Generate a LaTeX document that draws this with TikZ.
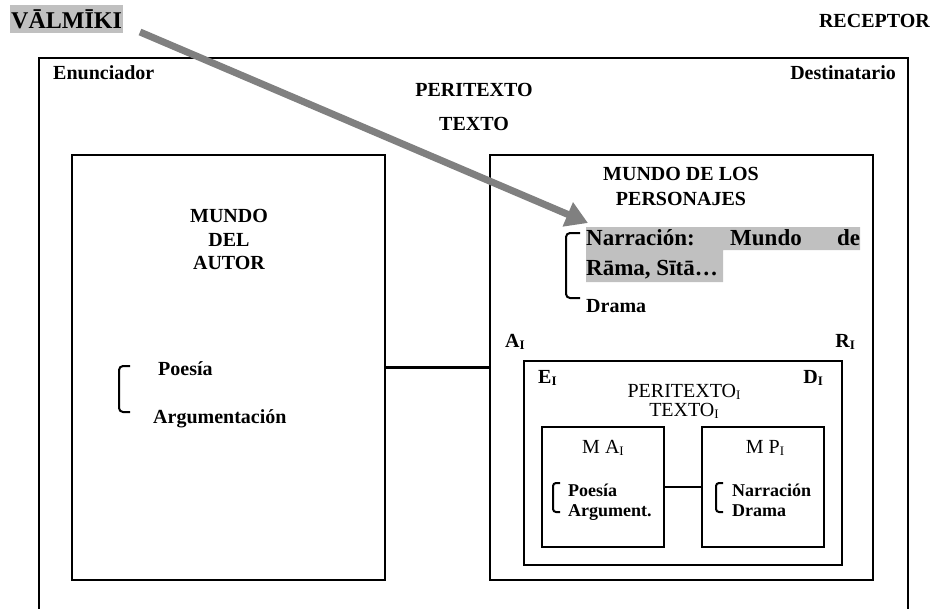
\documentclass[tikz,border=0pt]{standalone}
\usepackage{fontspec}
\setmainfont{Liberation Serif}
\usetikzlibrary{arrows.meta}
\definecolor{arrowgray}{RGB}{128,128,128}
\definecolor{hlgray}{RGB}{192,192,192}
\newcommand{\subI}{\raisebox{-2pt}{\scalebox{0.65}{I}}}
\begin{document}
\begin{tikzpicture}[x=1pt,y=-1pt,
  box/.style={draw, line width=2.6pt, inner sep=0pt, outer sep=0pt, anchor=north west},
  conn/.style={line width=2.6pt},
  brk/.style={line width=2pt, rounded corners=4pt},
  bl/.style={font=\bfseries\fontsize{20}{24}\selectfont, inner sep=0pt, anchor=base west},
  bc/.style={font=\bfseries\fontsize{20}{24}\selectfont, inner sep=0pt, anchor=base},
  be/.style={font=\bfseries\fontsize{20}{24}\selectfont, inner sep=0pt, anchor=base east},
  rc/.style={font=\fontsize{20}{24}\selectfont, inner sep=0pt, anchor=base},
  sl/.style={font=\bfseries\fontsize{18}{22}\selectfont, inner sep=0pt, anchor=base west},
  nl/.style={font=\bfseries\fontsize{23}{28}\selectfont, inner sep=0pt, anchor=base west}]
\useasboundingbox (0,0) rectangle (936,608);
\clip (0,0) rectangle (936,608);
\fill[white] (0,0) rectangle (936,608);

% boxes
\node[box, minimum width=869pt, minimum height=590pt] (outer) at (39,58) {};
\node[box, minimum width=313pt, minimum height=425pt] (left) at (72,155) {};
\node[box, minimum width=383pt, minimum height=425pt] (right) at (490,155) {};
\node[box, minimum width=318pt, minimum height=204pt] (inner) at (524,361) {};
\node[box, minimum width=122pt, minimum height=120pt] (ma) at (542,427) {};
\node[box, minimum width=122pt, minimum height=120pt] (mp) at (702,427) {};

\draw[conn] (left) -- (right);
\draw[conn] (ma) -- (mp);

% top labels
\node (valmiki) [fill=hlgray, font=\bfseries\fontsize{24}{28}\selectfont, inner xsep=1pt, inner ysep=0pt, text height=23pt, text depth=5pt, anchor=base west] at (10,28) {VĀLMĪKI};
\node[be] (receptor) at (930,27) {RECEPTOR};
\node[bl] (enun) at (53,79) {Enunciador};
\node[be] (dest) at (896,79) {Destinatario};
\node[bc] (perit) at (474,96) {PERITEXTO};
\node[bc] (texto) at (474,130) {TEXTO};

% left box
\node[bc] (m1) at (229,222) {MUNDO};
\node[bc] (m2) at (229,246) {DEL};
\node[bc] (m3) at (229,269) {AUTOR};
\node[bl] (poesia) at (158,375) {Poesía};
\node[bl] (argum) at (153,423) {Argumentación};
\draw[brk] (130,366) -- (119,366) -- (119,412) -- (130,412);

% right box
\node[bc] (mp1) at (681,180) {MUNDO DE LOS};
\node[bc] (mp2) at (681,205) {PERSONAJES};
\fill[hlgray] (586,227) -- (860,227) -- (860,250) -- (723,250) -- (723,282) -- (586,282) -- cycle;
\node[nl] (narr) at (586,245) {\makebox[274pt][s]{Narración:\hfill Mundo\hfill de}};
\node[nl] (rama) at (586,275) {Rāma, Sītā…};
\draw[brk] (580,233) -- (566,233) -- (566,298) -- (580,298);
\node[bl] (drama) at (586,312) {Drama};
\node[bl] (ai) at (505,347) {A\subI};
\node[be] (ri) at (855,347) {R\subI};

% inner box
\node[bl] (ei) at (538,383) {E\subI};
\node[be] (di) at (823,383) {D\subI};
\node[rc] (perit2) at (684,397) {PERITEXTO\subI};
\node[rc] (texto2) at (684,416) {TEXTO\subI};
\node[rc] (mai) at (603,453) {M A\subI};
\node[rc] (mpi) at (765,453) {M P\subI};
\node[sl] (poesia2) at (568,496) {Poesía};
\node[sl] (argum2) at (568,516) {Argument.};
\draw[brk, rounded corners=3pt] (560,483) -- (553,483) -- (553,512) -- (560,512);
\node[sl] (narr2) at (732,496) {Narración};
\node[sl] (drama2) at (732,516) {Drama};
\draw[brk, rounded corners=3pt] (723,483) -- (716,483) -- (716,512) -- (723,512);

% arrow
\coordinate (as) at (140,32);
\coordinate (ae) at (588,223);
\draw[arrowgray, line width=7pt, -{Triangle[length=22pt,width=25pt]}] (as) -- (ae);
\end{tikzpicture}
\end{document}
